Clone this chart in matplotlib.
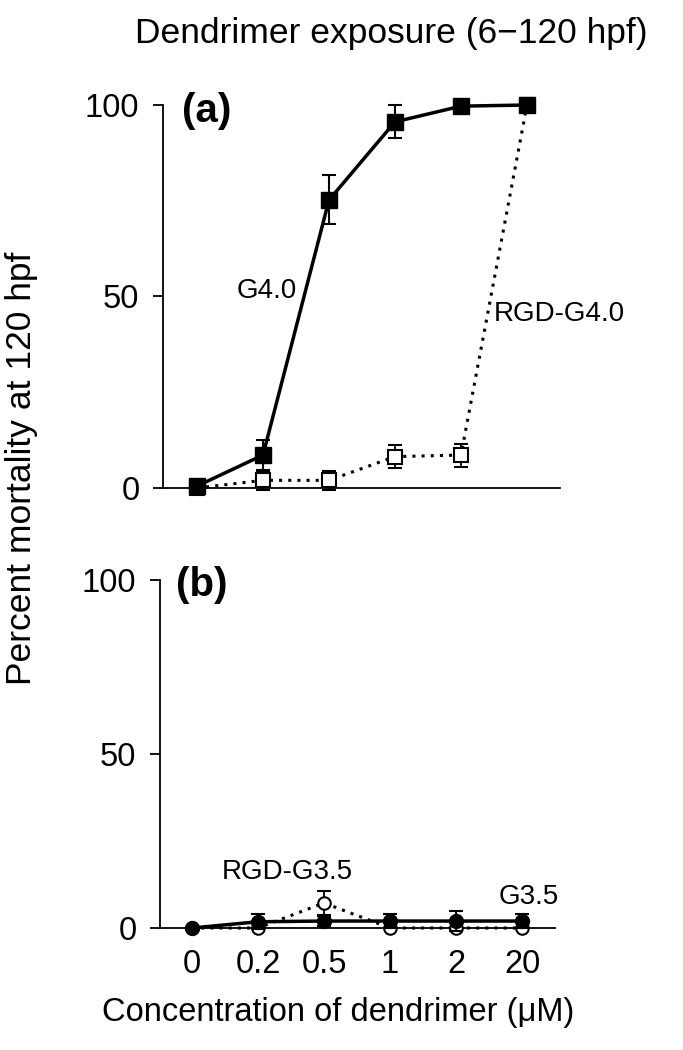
import matplotlib
matplotlib.use("Agg")
import matplotlib.pyplot as plt
import numpy as np

plt.rcParams['font.family'] = ['Liberation Sans', 'DejaVu Sans']

# Data
conc_labels = ["0", "0.2", "0.5", "1", "2", "20"]
g40 = [0.5, 8.6, 75.2, 95.6, 99.7, 100]
g40_err = [0, 4, 6.4, 4.3, 0, 0]
rgd_g40 = [0, 2, 2, 8.2, 8.6, 100]
rgd_g40_err = [0, 2.5, 2.5, 3, 3, 0]

g35 = [0, 1.8, 2, 2, 2, 2]
g35_err = [0, 2.2, 1.5, 2, 3, 2]
rgd_g35 = [0, 0, 7.2, 0, 0, 0]
rgd_g35_err = [0, 0, 3.5, 0, 0, 0]

W, H = 683, 1050
fig = plt.figure(figsize=(W / 100, H / 100), dpi=100)

def px_axes(left, right, top, bottom):
    return fig.add_axes([left / W, 1 - bottom / H, (right - left) / W, (bottom - top) / H])

x = np.arange(len(conc_labels))

def style(ax, x0):
    ax.set_ylim(0, 100)
    ax.set_xlim(x0, 5.5)
    for s in ['top', 'right']:
        ax.spines[s].set_visible(False)
    ax.spines['left'].set_linewidth(1.3)
    ax.spines['bottom'].set_linewidth(1.3)
    ax.set_yticks([0, 50, 100])
    ax.tick_params(axis='y', direction='out', length=7, width=1.3, labelsize=23.5, pad=10)
    ax.patch.set_alpha(0)

# Panel (a)
axa = px_axes(163, 560, 105, 488)
style(axa, -0.515)
axa.tick_params(axis='x', length=0, labelbottom=False)
axa.errorbar(x, rgd_g40, yerr=rgd_g40_err, color='black', ls=(0, (1, 2)), lw=2.2,
             marker='s', ms=10, mfc='white', mec='black', mew=1.5,
             capsize=5, elinewidth=1.3, capthick=1.3, clip_on=False, zorder=3)
axa.errorbar(x, g40, yerr=g40_err, color='black', ls='-', lw=2.5,
             marker='s', ms=11, mfc='black', mec='black',
             capsize=5, elinewidth=1.5, capthick=1.5, clip_on=False, zorder=4)
axa.text(1.05, 51.5, "G4.0", fontsize=20, ha='center', va='center')
axa.text(4.5, 45.5, "RGD-G4.0", fontsize=20, ha='left', va='center')
axa.text(-0.23, 98.5, "(a)", fontsize=29, fontweight='bold', ha='left', va='center')

# Panel (b)
axb = px_axes(160, 555, 580, 928)
style(axb, -0.485)
axb.set_xticks(x)
axb.set_xticklabels(conc_labels)
axb.tick_params(axis='x', length=0, labelsize=23.5, pad=15)
axb.errorbar(x, rgd_g35, yerr=rgd_g35_err, color='black', ls=(0, (1, 2)), lw=2.2,
             marker='o', ms=9, mfc='white', mec='black', mew=1.5,
             capsize=5, elinewidth=1.3, capthick=1.3, clip_on=False, zorder=3)
axb.errorbar(x, g35, yerr=g35_err, color='black', ls='-', lw=2.5,
             marker='o', ms=10, mfc='black', mec='black',
             capsize=5, elinewidth=1.5, capthick=1.5, clip_on=False, zorder=4)
axb.text(1.45, 16, "RGD-G3.5", fontsize=20, ha='center', va='center')
axb.text(5.1, 8.8, "G3.5", fontsize=20, ha='center', va='center')
axb.text(-0.25, 98.5, "(b)", fontsize=29, fontweight='bold', ha='left', va='center')

fig.text(391 / W, 1 - 33 / H, "Dendrimer exposure (6\u2212120 hpf)", fontsize=25.5,
         ha='center', va='center')
fig.text(338 / W, 1 - 1012 / H, "Concentration of dendrimer (\u03bcM)", fontsize=23.5,
         ha='center', va='center')
fig.text(22 / W, 1 - 468 / H, "Percent mortality at 120 hpf", fontsize=25.5,
         ha='center', va='center', rotation=90)

fig.savefig("out.png", dpi=100)
